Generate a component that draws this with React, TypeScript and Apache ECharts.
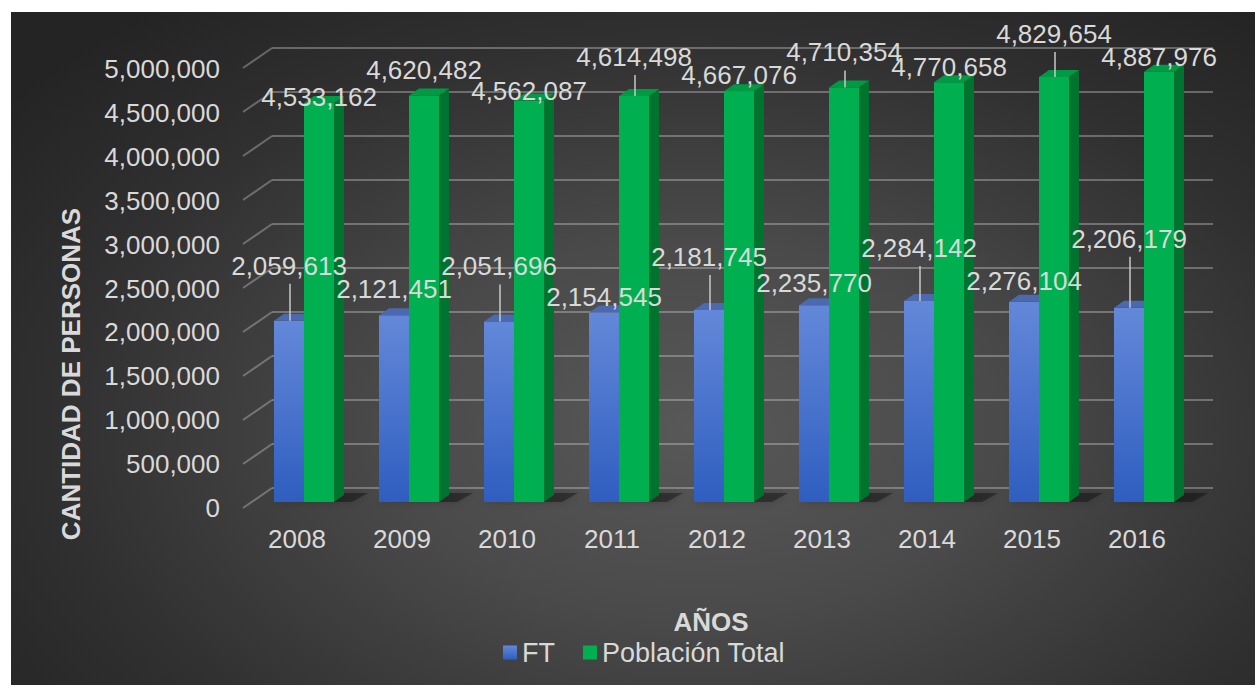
import React, { useEffect, useRef } from 'react';
import * as echarts from 'echarts';

const years = ['2008', '2009', '2010', '2011', '2012', '2013', '2014', '2015', '2016'];
const ftValues = [2059613, 2121451, 2051696, 2154545, 2181745, 2235770, 2284142, 2276104, 2206179];
const popValues = [4533162, 4620482, 4562087, 4614498, 4667076, 4710354, 4770658, 4829654, 4887976];
const yTicks = [0, 500000, 1000000, 1500000, 2000000, 2500000, 3000000, 3500000, 4000000, 4500000, 5000000];
const seriesNames = ['FT', 'Población Total'];
const yTitle = 'CANTIDAD DE PERSONAS';
const xTitle = 'AÑOS';

// label layout: how far (px) each value label sits above its bar top
const ftLabelRise = [55, 26, 55, 15, 53, 22, 53, 21, 69];
const popLabelRise = [6, 25, 10, 39, 16, 35, 15, 43, 15];

const FONT = "'Liberation Sans', Arial, sans-serif";
const TEXT = '#d9d9d9';
const BAR_W = 30;
const DEPTH_X = 10;
const DEPTH_Y = 7;

const fmt = (v: number) => String(v).replace(/\B(?=(\d{3})+(?!\d))/g, ',');

const blueGrad = () =>
  new echarts.graphic.LinearGradient(0, 0, 0, 1, [
    { offset: 0, color: '#6388d9' },
    { offset: 1, color: '#2f5ec0' },
  ]);

function barRender(kind: number) {
  return (params: any, api: any) => {
    const i = api.value(0);
    const v = api.value(1);
    const top = api.coord([i, v]);
    const base = api.coord([i, 0]);
    const cx = top[0];
    const left = kind === 0 ? cx - BAR_W : cx;
    const t = top[1];
    const b = base[1];
    const children: any[] = [];
    if (kind === 0) {
      children.push({
        type: 'polygon',
        shape: {
          points: [
            [left, b],
            [left + 2 * BAR_W + DEPTH_X + 8, b],
            [left + 2 * BAR_W + DEPTH_X + 24, b - DEPTH_Y - 2],
            [left + 12, b - DEPTH_Y - 2],
          ],
        },
        style: { fill: 'rgba(0,0,0,0.35)', shadowBlur: 8, shadowColor: 'rgba(0,0,0,0.6)' },
        z2: 0,
      });
      children.push({
        type: 'rect',
        shape: { x: left, y: t, width: BAR_W, height: b - t },
        style: { fill: blueGrad() },
        z2: 2,
      });
      children.push({
        type: 'polygon',
        shape: {
          points: [
            [left, t],
            [left + DEPTH_X, t - DEPTH_Y],
            [left + BAR_W + DEPTH_X, t - DEPTH_Y],
            [left + BAR_W, t],
          ],
        },
        style: { fill: '#4a69ae' },
        z2: 2,
      });
    } else {
      children.push({
        type: 'rect',
        shape: { x: left, y: t, width: BAR_W, height: b - t },
        style: { fill: '#00b050' },
        z2: 2,
      });
      children.push({
        type: 'polygon',
        shape: {
          points: [
            [left + BAR_W, t],
            [left + BAR_W + DEPTH_X, t - DEPTH_Y],
            [left + BAR_W + DEPTH_X, b - DEPTH_Y],
            [left + BAR_W, b],
          ],
        },
        style: { fill: '#00742f' },
        z2: 2,
      });
      children.push({
        type: 'polygon',
        shape: {
          points: [
            [left, t],
            [left + DEPTH_X, t - DEPTH_Y],
            [left + BAR_W + DEPTH_X, t - DEPTH_Y],
            [left + BAR_W, t],
          ],
        },
        style: { fill: '#009a44' },
        z2: 2,
      });
    }
    return { type: 'group', children };
  };
}

function labelRender(kind: number) {
  const rises = kind === 0 ? ftLabelRise : popLabelRise;
  return (params: any, api: any) => {
    const i = api.value(0);
    const v = api.value(1);
    const top = api.coord([i, v]);
    const cx = kind === 0 ? top[0] - BAR_W / 2 : top[0] + BAR_W / 2;
    const rise = rises[i];
    const ly = top[1] - rise;
    const children: any[] = [];
    if (rise >= 30) {
      children.push({
        type: 'line',
        shape: { x1: cx + 1, y1: ly + 18, x2: cx + 1, y2: top[1] },
        style: { stroke: '#c8c8c8', lineWidth: 1.5 },
      });
    }
    children.push({
      type: 'text',
      x: cx,
      y: ly,
      style: {
        text: fmt(v),
        fill: TEXT,
        font: `26px ${FONT}`,
        align: 'center',
        verticalAlign: 'middle',
      },
    });
    return { type: 'group', children };
  };
}

function diagRender(params: any, api: any) {
  const v = api.value(1);
  const p = api.coord([0, v]);
  return {
    type: 'line',
    shape: { x1: p[0] - 29, y1: p[1] + 20, x2: p[0], y2: p[1] },
    style: { stroke: 'rgba(217,217,217,0.35)', lineWidth: 2 },
  };
}

export default function App() {
  const ref = useRef<HTMLDivElement>(null);
  useEffect(() => {
    if (!ref.current) return;
    const chart = echarts.init(ref.current, null, { renderer: 'svg' });
    const ftData = years.map((_, i) => [i, ftValues[i]]);
    const popData = years.map((_, i) => [i, popValues[i]]);
    chart.setOption({
      animation: false,
      backgroundColor: 'transparent',
      textStyle: { fontFamily: FONT },
      grid: [
        // front plane: axis labels
        { left: 244.5, width: 945, top: 69, height: 439 },
        // back wall: gridlines
        { left: 272, width: 941, top: 48, height: 440 },
        // bars
        { left: 251.5, width: 945, top: 62, height: 440 },
      ],
      xAxis: [
        {
          gridIndex: 0,
          type: 'category',
          data: years,
          axisLine: { show: false },
          axisTick: { show: false },
          axisLabel: { color: TEXT, fontSize: 26, fontFamily: FONT, margin: 18 },
        },
        { gridIndex: 1, type: 'value', min: 0, max: 1, show: false },
        { gridIndex: 2, type: 'category', data: years, show: false },
      ],
      yAxis: [
        {
          gridIndex: 0,
          type: 'value',
          min: 0,
          max: 5000000,
          interval: 500000,
          axisLine: { show: false },
          axisTick: { show: false },
          splitLine: { show: false },
          axisLabel: { color: TEXT, fontSize: 26, fontFamily: FONT, margin: 24.5, formatter: (v: number) => fmt(v) },
        },
        {
          gridIndex: 1,
          type: 'value',
          min: 0,
          max: 5000000,
          interval: 500000,
          axisLine: { show: false },
          axisTick: { show: false },
          axisLabel: { show: false },
          splitLine: { show: true, lineStyle: { color: 'rgba(217,217,217,0.35)', width: 2 } },
        },
        { gridIndex: 2, type: 'value', min: 0, max: 5000000, interval: 500000, show: false },
      ],
      legend: {
        left: 503,
        top: 639,
        padding: 0,
        itemWidth: 14,
        itemHeight: 14,
        itemGap: 28,
        icon: 'rect',
        textStyle: { color: TEXT, fontSize: 27, fontFamily: FONT },
        data: [
          { name: seriesNames[0], itemStyle: { color: blueGrad() } },
          { name: seriesNames[1], itemStyle: { color: '#00b050' } },
        ],
      },
      graphic: [
        {
          type: 'text',
          x: 711,
          y: 622,
          style: { text: xTitle, font: `bold 26px ${FONT}`, fill: TEXT, align: 'center', verticalAlign: 'middle' },
        },
        {
          type: 'text',
          x: 70.5,
          y: 374,
          rotation: Math.PI / 2,
          style: { text: yTitle, font: `bold 26px ${FONT}`, fill: TEXT, align: 'center', verticalAlign: 'middle' },
        },
      ],
      series: [
        {
          type: 'custom',
          name: 'diag',
          xAxisIndex: 1,
          yAxisIndex: 1,
          data: yTicks.map((t) => [0, t]),
          renderItem: diagRender,
          silent: true,
          z: 1,
        },
        {
          type: 'custom',
          name: seriesNames[0],
          xAxisIndex: 2,
          yAxisIndex: 2,
          data: ftData,
          encode: { x: 0, y: 1 },
          itemStyle: { color: '#4a72cc' },
          renderItem: barRender(0),
          z: 3,
        },
        {
          type: 'custom',
          name: seriesNames[1],
          xAxisIndex: 2,
          yAxisIndex: 2,
          data: popData,
          encode: { x: 0, y: 1 },
          itemStyle: { color: '#00b050' },
          renderItem: barRender(1),
          z: 4,
        },
        {
          type: 'custom',
          name: 'ftLabels',
          xAxisIndex: 2,
          yAxisIndex: 2,
          data: ftData,
          encode: { x: 0, y: 1 },
          renderItem: labelRender(0),
          silent: true,
          z: 10,
        },
        {
          type: 'custom',
          name: 'popLabels',
          xAxisIndex: 2,
          yAxisIndex: 2,
          data: popData,
          encode: { x: 0, y: 1 },
          renderItem: labelRender(1),
          silent: true,
          z: 10,
        },
      ],
    });
    return () => chart.dispose();
  }, []);

  return (
    <>
      <div
        style={{
          position: 'absolute',
          left: 11,
          top: 12,
          width: 1244,
          height: 673,
          background:
            'radial-gradient(ellipse 70% 80% at 55% 62%, #585858 0%, #4a4a4a 35%, #2f2f2f 75%, #242424 100%)',
        }}
      />
      <div ref={ref} style={{ position: 'absolute', left: 0, top: 0, width: 1255, height: 685 }} />
    </>
  );
}
